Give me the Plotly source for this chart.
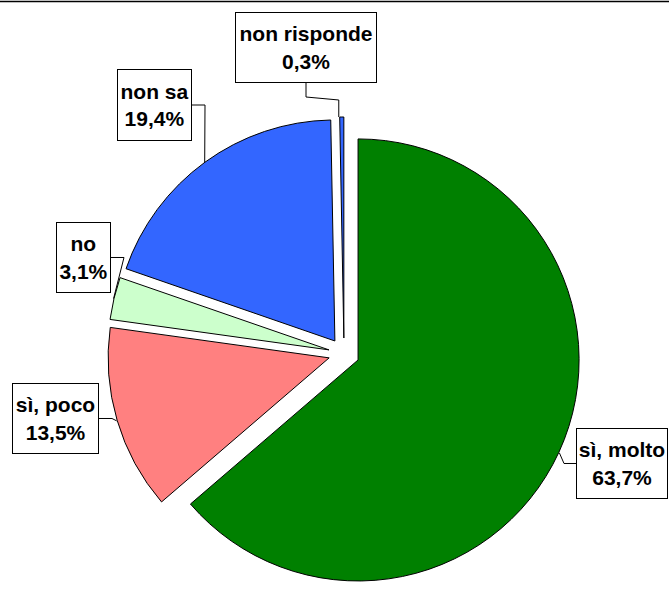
import math
import plotly.graph_objects as go

# ---- data ----
labels = ["sì, molto", "sì, poco", "no", "non sa", "non risponde"]
values = [63.7, 13.5, 3.1, 19.4, 0.3]
colors = ["#008000", "#FF8080", "#CCFFCC", "#3366FF", "#3366FF"]

# ---- layout constants (pixels) ----
W, H = 669, 590
CX, CY = 344, 354          # pie domain centre
HALF = 237.0               # half size of pie domain
PULL = 0.07
R = HALF / (1 + PULL)

# label boxes: centre x, centre y, width, height, leader side
boxes = {
    "sì, molto":    (622, 463.5, 92, 71, "left"),
    "sì, poco":     (55.5, 418.5, 87, 71, "right"),
    "no":           (83.5, 257.5, 55, 71, "right"),
    "non sa":       (154.5, 105, 75, 72, "right"),
    "non risponde": (306, 47.5, 142, 71, "bottom"),
}

def px(x):
    return x / W

def py(y):
    return 1 - y / H

fig = go.Figure(go.Pie(
    labels=labels,
    values=values,
    sort=False,
    direction="clockwise",
    rotation=0,
    pull=[PULL] * len(values),
    marker=dict(colors=colors, line=dict(color="black", width=1)),
    textinfo="none",
    hoverinfo="label+percent",
    domain=dict(x=[px(CX - HALF), px(CX + HALF)],
                y=[max(0, py(CY + HALF)), py(CY - HALF)]),
    showlegend=False,
))

total = sum(values)
shapes = []
annotations = []
cum = 0.0
for lab, v in zip(labels, values):
    a0 = cum / total * 2 * math.pi
    cum += v
    a1 = cum / total * 2 * math.pi
    am = (a0 + a1) / 2
    # slice centre after pull, then point on outer edge at mid angle
    sx = CX + PULL * R * math.sin(am)
    sy = CY - PULL * R * math.cos(am)
    ex = sx + R * math.sin(am)
    ey = sy - R * math.cos(am)

    bx, by, bw, bh, side = boxes[lab]
    txt = f"{lab}<br>{v:.1f}".replace(".", ",") + "%"
    annotations.append(dict(
        x=px(bx), y=py(by), xref="paper", yref="paper",
        xanchor="center", yanchor="middle", showarrow=False,
        text=txt, align="center",
        width=bw - 2, height=bh - 2,
        bgcolor="white", bordercolor="black", borderwidth=1, borderpad=0,
        font=dict(family="Liberation Sans, Arial, sans-serif", size=21,
                  color="black", weight="bold"),
    ))

    if side == "left":
        p0 = (bx - bw / 2, by)
        p1 = (p0[0] - 12, by)
        pts = [p0, p1, (ex, ey)]
    elif side == "right":
        p0 = (bx + bw / 2, by)
        p1 = (p0[0] + 13, by)
        pts = [p0, p1, (ex, ey)]
    else:
        p0 = (bx, by + bh / 2)
        p1 = (bx, p0[1] + 14)
        p2 = (ex - 3, p1[1] + 3)
        pts = [p0, p1, p2, (ex - 3, ey)]
    path = "M " + " L ".join(f"{px(x):.5f},{py(y):.5f}" for x, y in pts)
    shapes.append(dict(type="path", path=path, xref="paper", yref="paper",
                       line=dict(color="black", width=1)))

# top frame line
shapes.append(dict(type="line", xref="paper", yref="paper",
                   x0=0, x1=1, y0=py(1.5), y1=py(1.5),
                   line=dict(color="black", width=1.5)))

fig.update_layout(
    width=W, height=H,
    margin=dict(l=0, r=0, t=0, b=0),
    paper_bgcolor="white",
    plot_bgcolor="white",
    shapes=shapes,
    annotations=annotations,
)

fig.write_html(
    "out.html",
    config={"displayModeBar": False},
    post_script="document.body.style.margin='0px';document.body.style.overflow='hidden';",
)
